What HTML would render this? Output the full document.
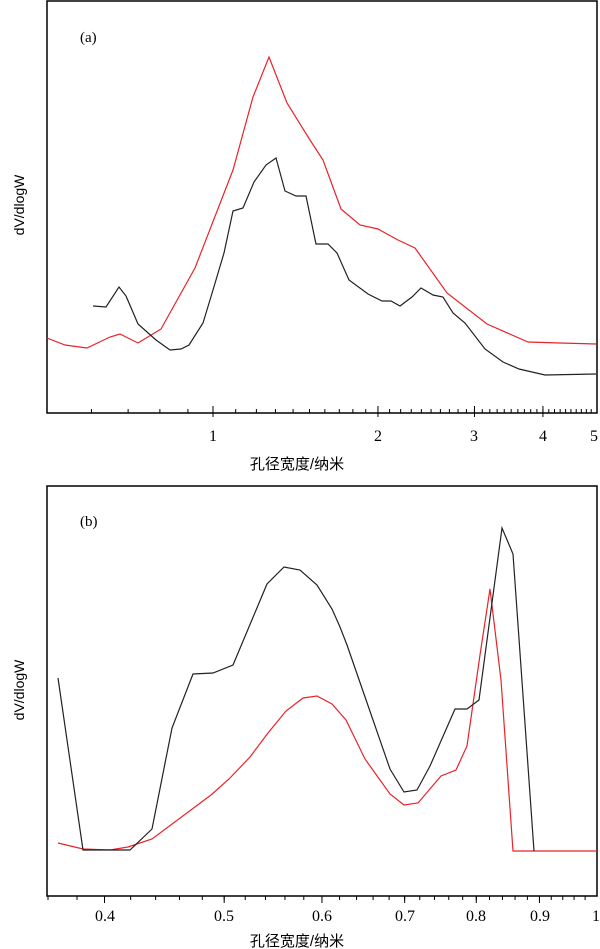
<!DOCTYPE html>
<html><head><meta charset="utf-8"><style>
html,body{margin:0;padding:0;background:#fff;}
svg{display:block;}
</style></head><body>
<svg width="600" height="949" xmlns="http://www.w3.org/2000/svg" font-family="Liberation Serif, serif">
<!-- Panel a -->
<rect x="47" y="1" width="550" height="412" fill="none" stroke="#000" stroke-width="1.5"/>
<text x="80" y="42" font-size="15">(a)</text>
<g id="ta" stroke="#000" stroke-width="1"></g>
<g font-size="16" text-anchor="middle">
<text x="213" y="441">1</text><text x="378" y="441">2</text><text x="474" y="441">3</text><text x="543" y="441">4</text><text x="594" y="441">5</text>
</g>
<text x="297" y="469" font-size="15" text-anchor="middle" font-family="Liberation Sans, Noto Sans CJK SC, sans-serif">孔径宽度/纳米</text>
<text transform="translate(24,205) rotate(-90)" font-size="14" text-anchor="middle" font-family="Liberation Sans, sans-serif">dV/dlogW</text>
<polyline fill="none" stroke="#e8232a" stroke-width="1.2" points="47,338 65,345 87,348 110,337 120,334 138,343 161,329 195,268 233,170 253,97 269,57 287,103 310,140 323,160 341,209 360,225 378,229 398,240 415,248 447,293 487,324 528,342 560,343 596,344"/>
<polyline fill="none" stroke="#222" stroke-width="1.2" points="93,306 106,307 119,287 126,296 138,324 156,340 170,350 181,349 189,345 203,323 213,290 224,253 233,211 243,208 254,182 266,165 276,158 285,191 296,196 306,196 316,244 328,244 337,253 349,280 368,294 382,301 391,301 400,306 412,297 421,288 433,295 443,297 453,313 465,323 485,349 503,362 519,369 545,375 596,374"/>

<!-- Panel b -->
<rect x="47" y="486" width="550" height="410" fill="none" stroke="#000" stroke-width="1.5"/>
<text x="80" y="526" font-size="15">(b)</text>
<g id="tb" stroke="#000" stroke-width="1"></g>
<g font-size="16" text-anchor="middle">
<text x="105" y="921">0.4</text><text x="224" y="921">0.5</text><text x="322" y="921">0.6</text><text x="405" y="921">0.7</text><text x="476" y="921">0.8</text><text x="540" y="921">0.9</text><text x="596" y="921">1</text>
</g>
<text x="297" y="946" font-size="15" text-anchor="middle" font-family="Liberation Sans, Noto Sans CJK SC, sans-serif">孔径宽度/纳米</text>
<text transform="translate(24,690) rotate(-90)" font-size="14" text-anchor="middle" font-family="Liberation Sans, sans-serif">dV/dlogW</text>
<polyline fill="none" stroke="#e8232a" stroke-width="1.2" points="58,843 83,849 110,850 128,847 152,839 211,795 229,779 250,757 268,733 286,711 303,698 317,696 332,704 346,720 365,759 390,794 404,805 418,803 441,776 456,770 467,746 480,655 490,589 501,680 513,851 597,851"/>
<polyline fill="none" stroke="#222" stroke-width="1.2" points="58,678 83,850 130,850 152,829 172,728 193,674 213,673 233,665 267,584 284,567 300,570 317,585 332,609 340,627 347,645 364,694 390,769 404,792 417,790 430,766 455,709 467,709 479,700 502,528 513,554 534,851"/>
</svg>
<script>
(function(){
var ns="http://www.w3.org/2000/svg";
function ln(g,x1,y1,x2,y2){var l=document.createElementNS(ns,"line");l.setAttribute("x1",x1);l.setAttribute("y1",y1);l.setAttribute("x2",x2);l.setAttribute("y2",y2);g.appendChild(l);}
var ga=document.getElementById("ta");
function xa(v){return 213+548*Math.log10(v);}
var vals=[0.6,0.7,0.8,0.9];
for(var v=1.1;v<1.95;v+=0.1)vals.push(v);
for(var v=2.1;v<4.95;v+=0.1)vals.push(v);
vals.forEach(function(v){var x=xa(v);ln(ga,x,413,x,409);});
[1,2,3,4].forEach(function(v){var x=xa(v);ln(ga,x,406,x,417);});
var gb=document.getElementById("tb");
function xb(v){return 104.5+1235*Math.log10(v/0.4);}
for(var v=0.36;v<0.995;v+=0.02){var x=xb(v);ln(gb,x,896,x,900);}
[0.4,0.5,0.6,0.7,0.8,0.9].forEach(function(v){var x=xb(v);ln(gb,x,896,x,903);});
})();
</script>
</body></html>
